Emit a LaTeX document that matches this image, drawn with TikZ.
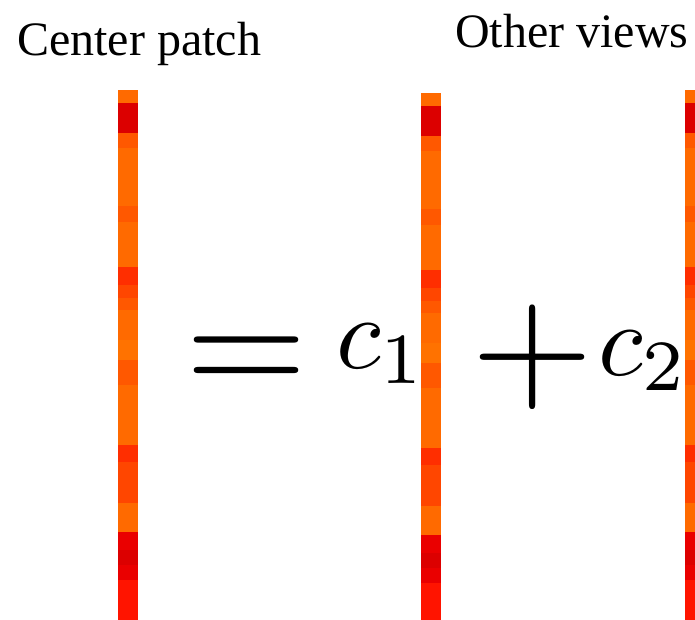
\documentclass[tikz,border=0pt]{standalone}
\usepackage[no-math]{fontspec}
\setmainfont{Liberation Serif}
\newfontfamily\labelserif{Liberation Serif}
\usetikzlibrary{positioning}
\definecolor{barorange}{HTML}{FF6A00}
\definecolor{barlight}{HTML}{FF7200}
\definecolor{barmid}{HTML}{FF5800}
\definecolor{barhot}{HTML}{FF4600}
\definecolor{barred}{HTML}{FF2E00}
\definecolor{barscar}{HTML}{FF1400}
\definecolor{barcrim}{HTML}{EA0000}
\definecolor{bardark}{HTML}{DC0000}

\begin{document}
\begin{tikzpicture}[x=1pt, y=-1pt,
        title/.style={inner sep=0pt, anchor=base west, font=\labelserif\fontsize{48}{50}\selectfont},
        opsign/.style={inner sep=0pt, anchor=base, font=\fontsize{10}{12}\selectfont, scale=15.7},
        coef/.style={inner sep=0pt, anchor=base west, font=\fontsize{10}{12}\selectfont, scale=10.3},
        vecbar/.pic={
            \foreach \a/\b/\c in {0/13/barorange, 13/43/bardark, 43/58/barmid, 58/116/barorange,
                116/132/barmid, 132/177/barorange, 177/195/barred, 195/208/barhot, 208/220/barmid,
                220/250/barorange, 250/270/barlight, 270/295/barmid, 295/355/barorange,
                355/372/barred, 372/385/barhot, 385/413/barhot, 413/442/barorange,
                442/460/barcrim, 460/475/bardark, 475/490/barcrim, 490/540/barscar}
                \fill[\c] (0,\a-0.3) rectangle (20,\b+0.3);
        }]
        \useasboundingbox (0,0) rectangle (695,619);
        \clip (0,0) rectangle (695,619);

        \node[title] (centerlabel) at (17,55) {Center patch};
        \node[title] (otherlabel) at (455,47) {Other views};

        \pic at (118,90) {vecbar};
        \pic at (421,93) {vecbar};
        \pic at (685,90) {vecbar};

        \node[opsign] (eq) at (247,394) {$=$};
        \node[coef] (coefa) at (334,368) {$c_1$};
        \node[opsign] (plus) at (533,396) {$+$};
        \node[coef] (coefb) at (596,375) {$c_2$};
    \end{tikzpicture}
\end{document}
